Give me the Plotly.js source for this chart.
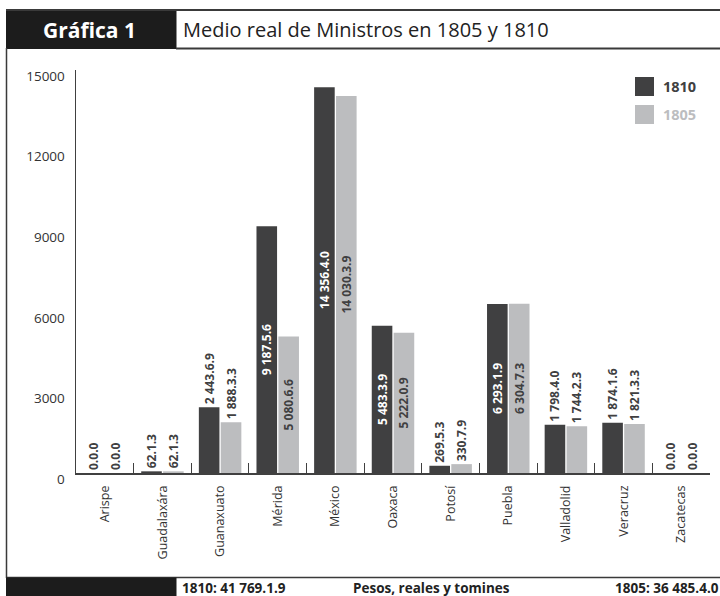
<!DOCTYPE html>
<html>
<head>
<meta charset="utf-8">
<script src="https://cdn.plot.ly/plotly-3.0.1.min.js"></script>
<style>
  html, body { margin: 0; padding: 0; background: #ffffff; }
  #chart { width: 720px; height: 596px; }
</style>
</head>
<body>
<div id="chart"></div>
<script>
// ---- Data ----
const categories = ["Arispe", "Guadalaxára", "Guanaxuato", "Mérida", "México", "Oaxaca",
                    "Potosí", "Puebla", "Valladolid", "Veracruz", "Zacatecas"];
const values1810 = [0, 62, 2443, 9187, 14356, 5483, 269, 6293, 1798, 1874, 0];
const values1805 = [0, 62, 1888, 5080, 14030, 5222, 330, 6304, 1744, 1821, 0];
const labels1810 = ["0.0.0", "62.1.3", "2 443.6.9", "9 187.5.6", "14 356.4.0", "5 483.3.9",
                    "269.5.3", "6 293.1.9", "1 798.4.0", "1 874.1.6", "0.0.0"];
const labels1805 = ["0.0.0", "62.1.3", "1 888.3.3", "5 080.6.6", "14 030.3.9", "5 222.0.9",
                    "330.7.9", "6 304.7.3", "1 744.2.3", "1 821.3.3", "0.0.0"];
const yTicks = [0, 3000, 6000, 9000, 12000, 15000];
const seriesNames = ["1810", "1805"];
const total1810 = "1810: 41 769.1.9";
const total1805 = "1805: 36 485.4.0";
const unitsText = "Pesos, reales y tomines";
const chartLabel = "Gráfica 1";
const chartTitle = "Medio real de Ministros en 1805 y 1810";

// ---- Style ----
const DARK = "#404041";
const LIGHT = "#bcbdbf";
const FONT = "Open Sans, Noto Sans, sans-serif";

const W = 720, H = 596;
const M = { l: 76, r: 10, t: 70, b: 123 };
const PW = W - M.l - M.r, PH = H - M.t - M.b;
const px = x => (x - M.l) / PW;
const py = y => (H - M.b - y) / PH;

const posFor = vals => vals.map(v => v > 3000 ? "inside" : "outside");

const traces = [
  {
    type: "bar", name: seriesNames[0], x: categories, y: values1810,
    text: labels1810, textposition: posFor(values1810), textangle: -90,
    insidetextanchor: "middle", constraintext: "none", cliponaxis: false,
    insidetextfont: { family: FONT, size: 12, color: "#ffffff", weight: "bold" },
    outsidetextfont: { family: FONT, size: 12, color: DARK, weight: "bold" },
    marker: { color: DARK }, hoverinfo: "x+y", showlegend: false
  },
  {
    type: "bar", name: seriesNames[1], x: categories, y: values1805,
    text: labels1805, textposition: posFor(values1805), textangle: -90,
    insidetextanchor: "middle", constraintext: "none", cliponaxis: false,
    insidetextfont: { family: FONT, size: 12, color: DARK, weight: "bold" },
    outsidetextfont: { family: FONT, size: 12, color: DARK, weight: "bold" },
    marker: { color: LIGHT }, hoverinfo: "x+y", showlegend: false
  }
];

const lineCol = "#3a3a3a";
const shapes = [
  { type: "rect", xref: "paper", yref: "paper", x0: px(6), x1: px(176.5), y0: py(49), y1: py(9.5),
    fillcolor: "#1c1c1c", line: { width: 0 }, layer: "above" },
  { type: "line", xref: "paper", yref: "paper", x0: px(6), x1: px(720), y0: py(10), y1: py(10),
    line: { color: lineCol, width: 2 } },
  { type: "line", xref: "paper", yref: "paper", x0: px(176), x1: px(720), y0: py(48.5), y1: py(48.5),
    line: { color: lineCol, width: 2 } },
  { type: "line", xref: "paper", yref: "paper", x0: px(6.5), x1: px(6.5), y0: py(48), y1: py(578),
    line: { color: lineCol, width: 1.5 } },
  { type: "line", xref: "paper", yref: "paper", x0: px(6), x1: px(720), y0: py(577.5), y1: py(577.5),
    line: { color: lineCol, width: 1.5 } },
  { type: "rect", xref: "paper", yref: "paper", x0: px(6), x1: px(176.5), y0: py(596), y1: py(577.5),
    fillcolor: "#1c1c1c", line: { width: 0 } },
  { type: "rect", xref: "paper", yref: "paper", x0: px(635), x1: px(654), y0: py(96), y1: py(77),
    fillcolor: DARK, line: { width: 0 } },
  { type: "rect", xref: "paper", yref: "paper", x0: px(635), x1: px(654), y0: py(124), y1: py(105),
    fillcolor: LIGHT, line: { width: 0 } }
];

const ann = (text, x, y, opts) => Object.assign({
  text: text, xref: "paper", yref: "paper", x: px(x), y: py(y),
  showarrow: false, xanchor: "left", yanchor: "middle"
}, opts);

const annotations = [
  ann("<b>" + chartLabel + "</b>", 89, 30, { xanchor: "center", font: { family: FONT, size: 21, color: "#ffffff" } }),
  ann(chartTitle, 181, 30, { font: { family: FONT, size: 20, color: "#222222" } }),
  ann("<b>" + total1810 + "</b>", 180, 588, { font: { family: FONT, size: 13.5, color: "#222222" } }),
  ann("<b>" + unitsText + "</b>", 432, 588, { xanchor: "center", font: { family: FONT, size: 13.5, color: "#222222" } }),
  ann("<b>" + total1805 + "</b>", 721, 588, { xanchor: "right", font: { family: FONT, size: 13.5, color: "#222222" } }),
  ann("<b>" + seriesNames[0] + "</b>", 661, 86.5, { font: { family: FONT, size: 14.5, color: DARK } }),
  ann("<b>" + seriesNames[1] + "</b>", 661, 114.5, { font: { family: FONT, size: 14.5, color: LIGHT } })
];

const layout = {
  width: W, height: H,
  margin: M,
  paper_bgcolor: "#ffffff", plot_bgcolor: "#ffffff",
  barmode: "group", bargap: 0.24, bargroupgap: 0.06,
  showlegend: false,
  font: { family: FONT, color: "#333333" },
  xaxis: {
    type: "category", showline: true, linecolor: "#404040", linewidth: 1.5,
    ticks: "inside", tickson: "boundaries", ticklen: 10, tickwidth: 1, tickcolor: "#404040",
    tickangle: -90, tickfont: { family: FONT, size: 12.5, color: "#333333" },
    ticklabelstandoff: 6, showgrid: false, zeroline: false, fixedrange: true
  },
  yaxis: {
    range: [0, 15000], tickvals: yTicks, ticktext: yTicks.map(String),
    showline: true, linecolor: "#404040", linewidth: 1.5, ticks: "",
    showgrid: false, zeroline: false, ticklabelstandoff: 7, ticklabelshift: 6,
    tickfont: { family: FONT, size: 13.5, color: "#333333" }, fixedrange: true
  },
  shapes: shapes,
  annotations: annotations
};

Plotly.newPlot("chart", traces, layout, { displayModeBar: false, staticPlot: true });
</script>
</body>
</html>
